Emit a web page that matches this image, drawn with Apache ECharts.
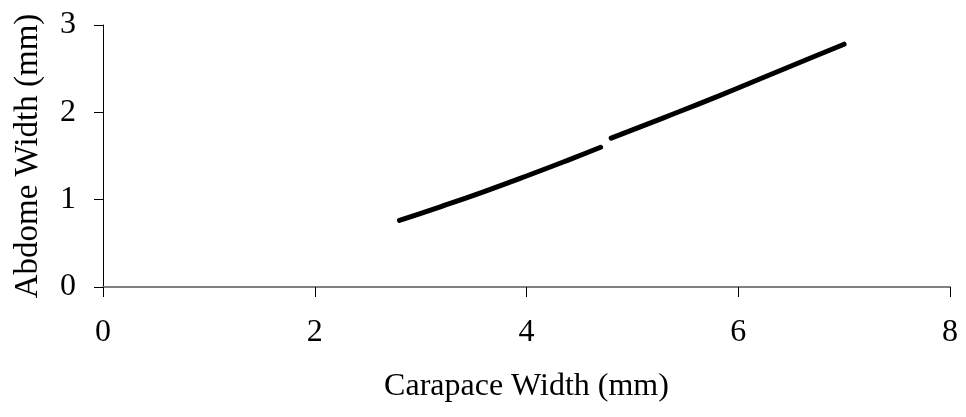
<!DOCTYPE html>
<html>
<head>
<meta charset="utf-8">
<script src="https://cdn.jsdelivr.net/npm/echarts@6/dist/echarts.min.js"></script>
<style>
html,body{margin:0;padding:0;background:#fff;}
#c{width:966px;height:417px;}
</style>
</head>
<body>
<div id="c"></div>
<script>
var xTicks = [0, 2, 4, 6, 8];
var yTicks = [0, 1, 2, 3];
var seg1X = [2.8, 3.2, 3.6, 4.0, 4.4, 4.7];
var seg1Y = [0.763, 0.924, 1.093, 1.271, 1.456, 1.60];
var seg2X = [4.8, 5.3, 5.8, 6.3, 6.7, 7.0];
var seg2Y = [1.705, 1.94, 2.18, 2.43, 2.63, 2.78];
var xName = 'Carapace Width (mm)';
var yName = 'Abdome Width (mm)';

function zip(a, b) { return a.map(function (v, i) { return [v, b[i]]; }); }

var font = '"Liberation Serif","Times New Roman",serif';
var chart = echarts.init(document.getElementById('c'));
chart.setOption({
  animation: false,
  backgroundColor: '#fff',
  grid: { left: 103, right: 16, top: 25, bottom: 130 },
  xAxis: {
    type: 'value', min: xTicks[0], max: xTicks[xTicks.length - 1], interval: 2,
    name: xName, nameLocation: 'middle', nameGap: 84,
    nameTextStyle: { fontFamily: font, fontSize: 32, color: '#000' },
    axisLine: { lineStyle: { color: '#808080', width: 2 } },
    axisTick: { show: true, inside: false, length: 10, lineStyle: { color: '#000' } },
    axisLabel: { fontFamily: font, fontSize: 32, color: '#000', margin: 30 },
    splitLine: { show: false }
  },
  yAxis: {
    type: 'value', min: yTicks[0], max: yTicks[yTicks.length - 1], interval: 1,
    name: yName, nameLocation: 'middle', nameGap: 58, nameRotate: 90,
    nameTextStyle: { fontFamily: font, fontSize: 33, color: '#000' },
    axisLine: { show: true, lineStyle: { color: '#000', width: 1 } },
    axisTick: { show: true, inside: false, length: 9, lineStyle: { color: '#000' } },
    axisLabel: { fontFamily: font, fontSize: 32, color: '#000', margin: 27 },
    splitLine: { show: false }
  },
  series: [
    { type: 'line', data: zip(seg1X, seg1Y), symbol: 'none', smooth: true,
      lineStyle: { color: '#000', width: 5, cap: 'round', join: 'round' } },
    { type: 'line', data: zip(seg2X, seg2Y), symbol: 'none', smooth: true,
      lineStyle: { color: '#000', width: 5, cap: 'round', join: 'round' } }
  ]
});
</script>
</body>
</html>
